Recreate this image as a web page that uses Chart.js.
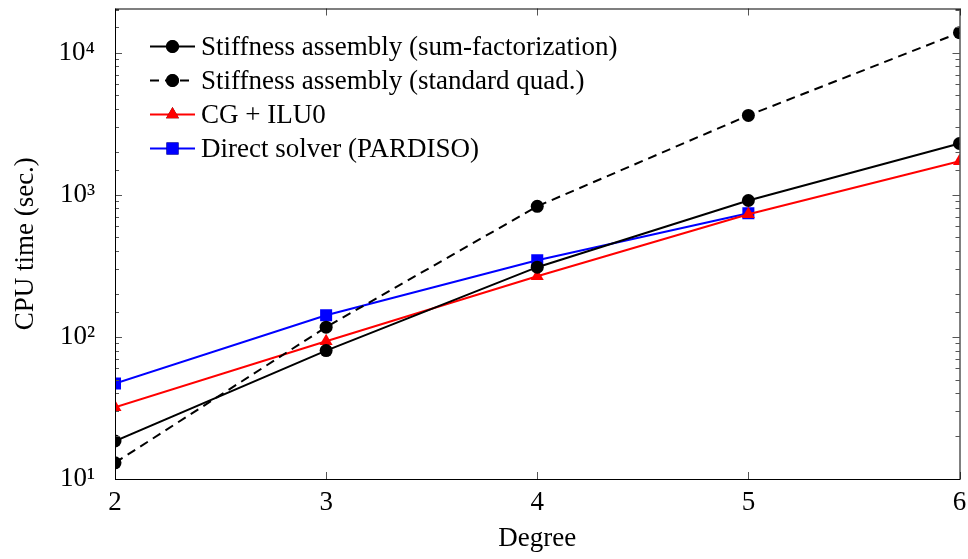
<!DOCTYPE html>
<html>
<head>
<meta charset="utf-8">
<script src="https://cdn.jsdelivr.net/npm/chart.js@4/dist/chart.umd.min.js"></script>
<style>
  html, body { margin: 0; padding: 0; background: #fff; }
  #wrap { width: 968px; height: 559px; }
</style>
</head>
<body>
<div id="wrap"><canvas id="cpuChart"></canvas></div>
<script>
// Data
const degrees = [2, 3, 4, 5, 6];
const sumFactorization = [18.5, 80, 309, 910, 2290];
const standardQuad = [13, 117, 828, 3610, 13800];
const cgIlu0 = [32, 93, 267, 728, 1718];
const directSolver = [47, 142, 346, 740];

const yTickLabels = { 10: '10\u00B9', 100: '10\u00B2', 1000: '10\u00B3', 10000: '10\u2074' };

const FONT = '"Liberation Serif", "DejaVu Serif", serif';
const FONT_SIZE = 27;

const toPoints = values => values.map((v, i) => ({ x: degrees[i], y: v }));

// Ticks drawn inward on all four sides, pgfplots style
const inwardTicks = {
  id: 'inwardTicks',
  afterDraw(chart) {
    const { ctx, chartArea: a, scales } = chart;
    ctx.save();
    ctx.strokeStyle = '#555';
    ctx.lineWidth = 1;
    ctx.beginPath();
    scales.x.ticks.forEach(t => {
      const px = Math.round(scales.x.getPixelForValue(t.value)) + 0.5;
      ctx.moveTo(px, a.bottom); ctx.lineTo(px, a.bottom - 7);
      ctx.moveTo(px, a.top); ctx.lineTo(px, a.top + 7);
    });
    scales.y.ticks.forEach(t => {
      const py = Math.round(scales.y.getPixelForValue(t.value)) + 0.5;
      const len = yTickLabels[t.value] ? 7 : 4;
      ctx.moveTo(a.left, py); ctx.lineTo(a.left + len, py);
      ctx.moveTo(a.right, py); ctx.lineTo(a.right - len, py);
    });
    ctx.stroke();
    ctx.strokeStyle = '#000';
    ctx.lineWidth = 1;
    ctx.strokeRect(a.left + 0.5, a.top + 0.5, a.right - a.left, a.bottom - a.top);
    ctx.restore();
  }
};

// Legend inside the axes with line samples and a marker in the middle
const insideLegend = {
  id: 'insideLegend',
  afterDraw(chart) {
    const { ctx, chartArea: a } = chart;
    const x0 = a.left + 35, x1 = a.left + 80, tx = a.left + 86;
    ctx.save();
    ctx.font = FONT_SIZE + 'px ' + FONT;
    ctx.textBaseline = 'middle';
    chart.data.datasets.forEach((ds, i) => {
      const y = a.top + 38 + i * 34;
      ctx.strokeStyle = ds.borderColor;
      ctx.lineWidth = ds.borderWidth;
      ctx.setLineDash(ds.borderDash || []);
      ctx.beginPath();
      ctx.moveTo(x0, y); ctx.lineTo(x1, y);
      ctx.stroke();
      ctx.setLineDash([]);
      Chart.helpers.drawPoint(ctx, {
        pointStyle: ds.pointStyle, radius: ds.pointRadius, rotation: 0, borderWidth: 0
      }, (x0 + x1) / 2, y);
      ctx.fillStyle = ds.pointBackgroundColor;
      ctx.fill();
      ctx.fillStyle = '#000';
      ctx.fillText(ds.label, tx, y + 1);
    });
    ctx.restore();
  }
};

new Chart(document.getElementById('cpuChart'), {
  type: 'line',
  data: {
    datasets: [
      {
        label: 'Stiffness assembly (sum-factorization)',
        data: toPoints(sumFactorization),
        borderColor: '#000', borderWidth: 2,
        pointStyle: 'circle', pointRadius: 6.5,
        pointBackgroundColor: '#000', pointBorderWidth: 0
      },
      {
        label: 'Stiffness assembly (standard quad.)',
        data: toPoints(standardQuad),
        borderColor: '#000', borderWidth: 2, borderDash: [9, 6],
        pointStyle: 'circle', pointRadius: 6.5,
        pointBackgroundColor: '#000', pointBorderWidth: 0
      },
      {
        label: 'CG + ILU0',
        data: toPoints(cgIlu0),
        borderColor: '#ff0000', borderWidth: 2,
        pointStyle: 'triangle', pointRadius: 7.5,
        pointBackgroundColor: '#ff0000', pointBorderWidth: 0
      },
      {
        label: 'Direct solver (PARDISO)',
        data: toPoints(directSolver),
        borderColor: '#0000ff', borderWidth: 2,
        pointStyle: 'rect', pointRadius: 8.5,
        pointBackgroundColor: '#0000ff', pointBorderWidth: 0
      }
    ]
  },
  options: {
    responsive: true,
    maintainAspectRatio: false,
    animation: false,
    layout: { padding: { top: 8, right: 8, left: 6, bottom: 0 } },
    plugins: {
      legend: { display: false },
      tooltip: { enabled: false }
    },
    scales: {
      x: {
        type: 'linear',
        min: 2, max: 6,
        border: { display: false },
        grid: { display: false },
        ticks: {
          stepSize: 1,
          color: '#000',
          font: { family: FONT, size: FONT_SIZE },
          padding: 0,
          callback: v => v
        },
        title: {
          display: true,
          text: 'Degree',
          color: '#000',
          font: { family: FONT, size: FONT_SIZE },
          padding: { top: 6 }
        },
        afterFit: s => { s.height = 80; s.paddingLeft = 0; s.paddingRight = 0; }
      },
      y: {
        type: 'logarithmic',
        min: 10, max: 20400,
        border: { display: false },
        grid: { display: false },
        ticks: {
          color: '#000',
          font: { family: FONT, size: FONT_SIZE },
          padding: 12,
          autoSkip: false,
          callback: v => yTickLabels[v] || ''
        },
        title: {
          display: true,
          text: 'CPU time (sec.)',
          color: '#000',
          font: { family: FONT, size: FONT_SIZE },
          padding: { bottom: 0 }
        },
        afterFit: s => { s.width = 109; s.paddingTop = 0; s.paddingBottom = 0; }
      }
    }
  },
  plugins: [inwardTicks, insideLegend]
});
</script>
</body>
</html>
